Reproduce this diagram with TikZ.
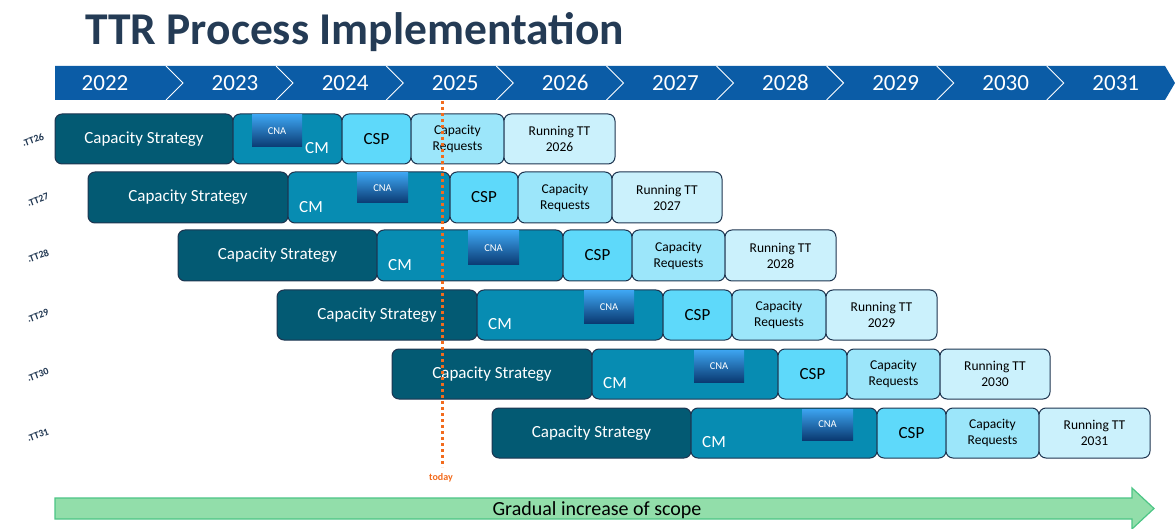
\documentclass[tikz,border=0pt]{standalone}
\usepackage{fontspec}
\setmainfont{Carlito}
\definecolor{titleblue}{HTML}{243B55}
\definecolor{yearblue}{HTML}{0B5CA6}
\definecolor{csfill}{HTML}{035A73}
\definecolor{cmfill}{HTML}{078CB2}
\definecolor{cspfill}{HTML}{5ED9FA}
\definecolor{crfill}{HTML}{9CE6FA}
\definecolor{rtfill}{HTML}{CBF1FC}
\definecolor{boxline}{HTML}{1E3550}
\definecolor{cnatop}{HTML}{3DA4F0}
\definecolor{cnabot}{HTML}{0A3A72}
\definecolor{todayorange}{HTML}{F26B1D}
\definecolor{arrowfill}{HTML}{92DEAA}
\definecolor{arrowline}{HTML}{4CC585}
\tikzset{
  pbox/.style={draw=boxline, line width=1pt, rounded corners=7pt, inner sep=0pt, outer sep=0pt, anchor=north west, align=center},
  stratbox/.style={pbox, fill=csfill, text=white, font=\fontsize{17}{20}\selectfont},
  cmbox/.style={pbox, fill=cmfill},
  cspbox/.style={pbox, fill=cspfill, text=black, font=\fontsize{17}{20}\selectfont},
  crbox/.style={pbox, fill=crfill, text=black, font=\fontsize{13.5}{16}\selectfont},
  rtbox/.style={pbox, fill=rtfill, text=black, font=\fontsize{13.5}{16}\selectfont},
  cnabox/.style={inner sep=0pt, outer sep=0pt, anchor=north west, top color=cnatop, bottom color=cnabot, text=white, font=\fontsize{10.5}{12}\selectfont},
  cmtext/.style={text=white, inner sep=0pt, font=\fontsize{17}{20}\selectfont},
  ttlabel/.style={text=boxline, inner sep=0pt, font=\bfseries\fontsize{10}{12}\selectfont},
  yeartext/.style={text=white, inner sep=0pt, font=\fontsize{23}{26}\selectfont},
}
\begin{document}
\begin{tikzpicture}[x=1pt,y=-1pt]
\useasboundingbox (0,0) rectangle (1175,529);
% title
\node[anchor=base west, inner sep=0pt, text=titleblue, font=\bfseries\fontsize{45.5}{50}\selectfont] (title) at (85,45) {TTR Process Implementation};
% year bar
\fill[yearblue] (55,66) -- (1165,66) -- (1175,83) -- (1165,100) -- (55,100) -- cycle;
\foreach \k in {0,...,8} {
  \pgfmathsetmacro\xb{166+110.1*\k}
  \draw[white, line width=0.9pt] (\xb,66) -- (\xb+17,83) -- (\xb,100);
}
\node[yeartext] (y2022) at (105,83) {2022};
\foreach \k in {1,...,9} {
  \pgfmathtruncatemacro\yr{2022+\k}
  \pgfmathsetmacro\xt{166+110.1*(\k-1)+69}
  \node[yeartext] (y\yr) at (\xt,83) {\yr};
}
% rows
\foreach \yr/\yt/\yb/\pa/\pb/\pc/\pd/\pe/\pf/\ca/\cb/\cc/\cmx/\lx/\ly in {
  26/114/164/55/233/342/411/504/615/252/302/147/317/33/140,
  27/172/223/88/288/450/518/612/722/357/408/203/311/38/200,
  28/230/281/178/377/563/632/725/836/468/519/265/400/38/256,
  29/290/340/277/477/663/732/826/937/584/634/323/500/38/316,
  30/349/399/392/592/778/847/940/1050/694/744/382/615/38/375,
  31/408/458/492/691/877/946/1039/1150/802/853/440/714/38/435}
{
  \pgfmathsetmacro\hh{\yb-\yt}
  \pgfmathsetmacro\wA{\pb-\pa}
  \pgfmathsetmacro\wB{\pc-\pb}
  \pgfmathsetmacro\wC{\pd-\pc}
  \pgfmathsetmacro\wD{\pe-\pd}
  \pgfmathsetmacro\wE{\pf-\pe}
  \pgfmathsetmacro\wN{\cb-\ca}
  \pgfmathsetmacro\hN{\cc-\yt-1}
  \node[stratbox, minimum width=\wA pt, minimum height=\hh pt] (cs\yr) at (\pa,\yt) {Capacity Strategy};
  \node[cmbox, minimum width=\wB pt, minimum height=\hh pt] (cm\yr) at (\pb,\yt) {};
  \node[cspbox, minimum width=\wC pt, minimum height=\hh pt] (csp\yr) at (\pc,\yt) {CSP};
  \node[crbox, minimum width=\wD pt, minimum height=\hh pt] (cr\yr) at (\pd,\yt) {Capacity\\Requests};
  \node[rtbox, minimum width=\wE pt, minimum height=\hh pt] (rt\yr) at (\pe,\yt) {Running TT\\20\yr};
  \node[cnabox, minimum width=\wN pt, minimum height=\hN pt] (cna\yr) at (\ca,\yt+1) {CNA};
  \node[cmtext] (cmt\yr) at (\cmx,\yb-16) {CM};
  \node[ttlabel, rotate=20] (tt\yr) at (\lx,\ly) {.TT\yr};
}
% today line
\coordinate (todaytop) at (442,101);
\coordinate (todaybot) at (442,467);
\draw[todayorange, line width=3pt, dash pattern=on 3pt off 3pt] (todaytop) -- (todaybot);
\node[text=todayorange, inner sep=0pt, font=\bfseries\fontsize{10}{12}\selectfont] (today) at (441,478) {today};
% scope arrow
\draw[fill=arrowfill, draw=arrowline, line width=1.2pt] (55,498) -- (1132,498) -- (1132,488) -- (1154,508.5) -- (1132,529) -- (1132,519) -- (55,519) -- cycle;
\node[text=black, inner sep=0pt, font=\fontsize{20}{24}\selectfont] (scope) at (597,510) {Gradual increase of scope};
\end{tikzpicture}
\end{document}
